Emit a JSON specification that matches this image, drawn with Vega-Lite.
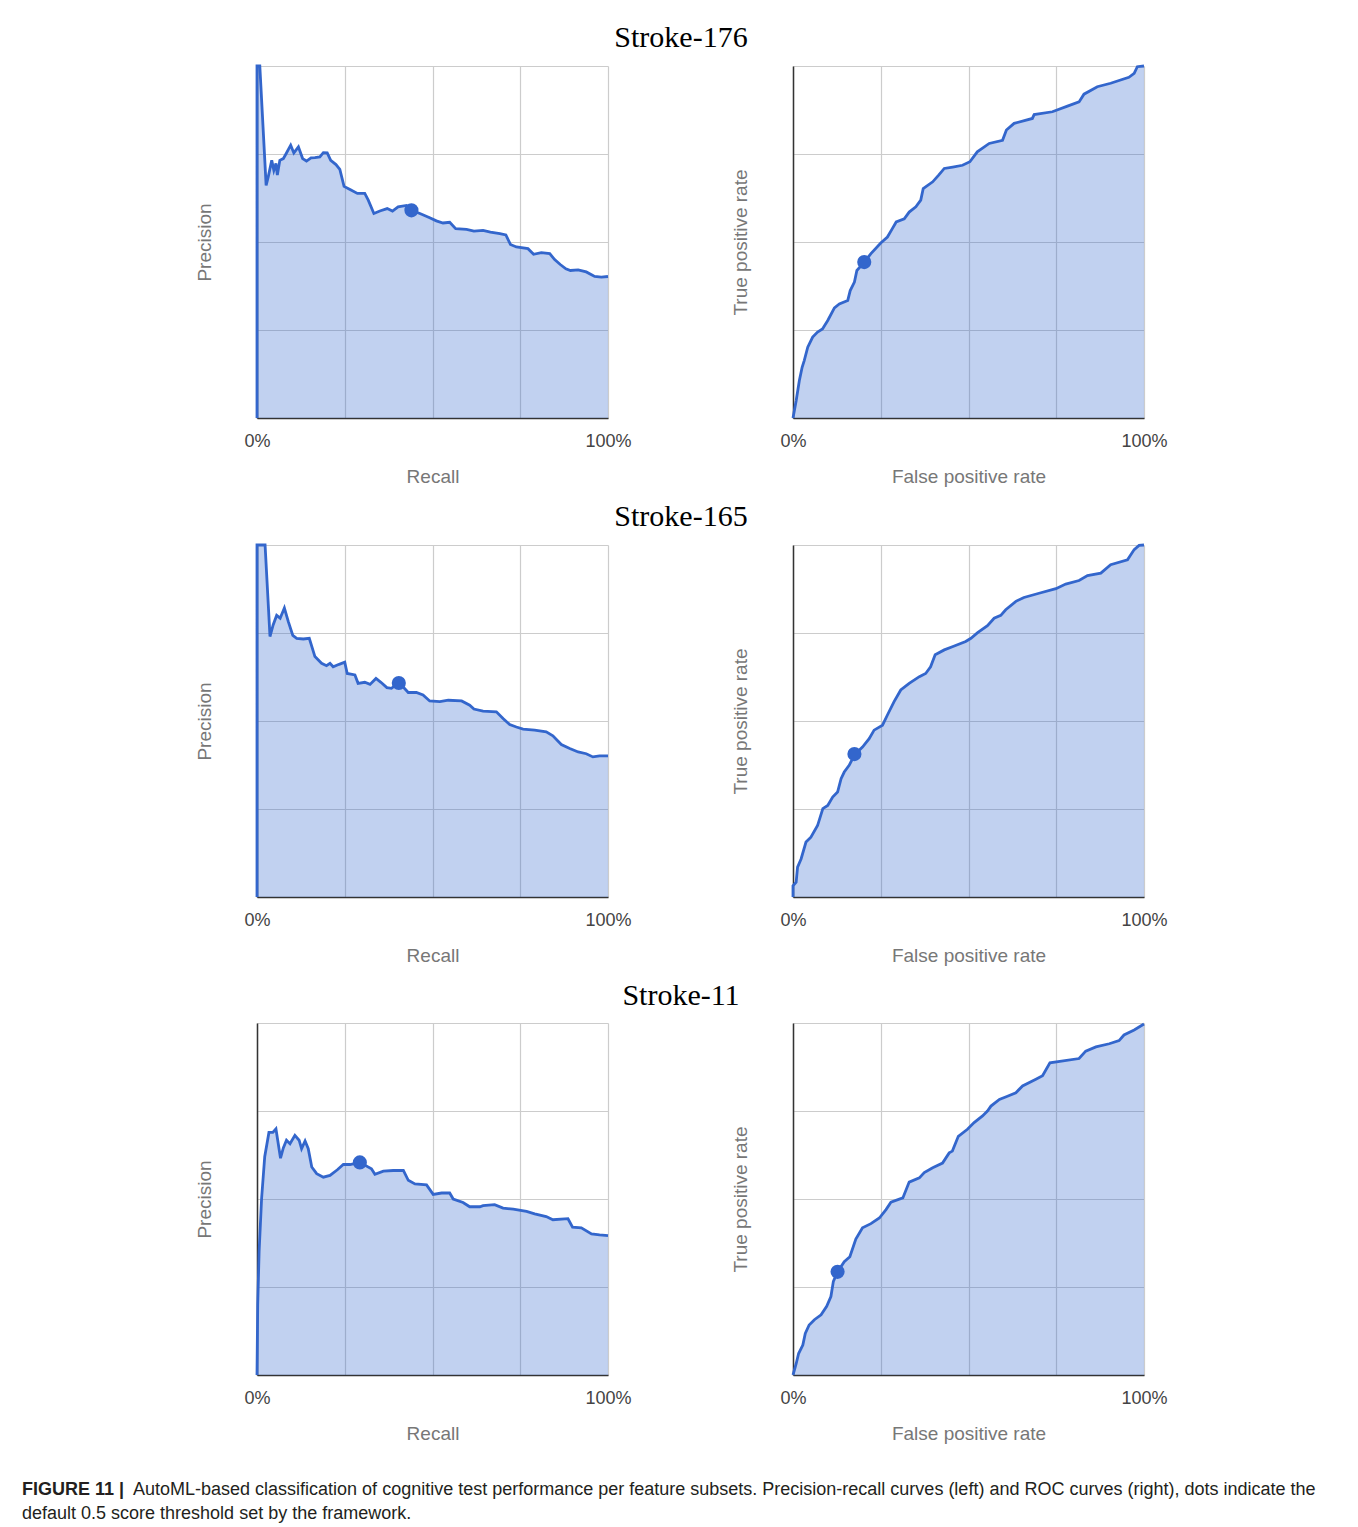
{
  "$schema": "https://vega.github.io/schema/vega-lite/v6.json",
  "background": "white",
  "padding": {"left": 22, "top": 23, "right": 10, "bottom": 5},
  "title": {
    "text": "default 0.5 score threshold set by the framework.",
    "orient": "bottom", "anchor": "start", "frame": "bounds", "offset": 6,
    "font": "Liberation Sans", "fontSize": 18, "fontWeight": "normal", "color": "#231f20"
  },
  "config": {
    "view": {"stroke": null},
    "axis": {
      "gridColor": "#cccccc", "gridWidth": 1.2, "domainColor": "#333333", "domainWidth": 1.5,
      "ticks": false, "labelFlush": false, "labelOverlap": false, "labelBound": false,
      "labelFont": "Liberation Sans", "labelFontSize": 18, "labelColor": "#444444",
      "titleFont": "Liberation Sans", "titleFontSize": 19, "titleColor": "#777777", "titleFontWeight": "normal"
    },
    "axisX": {"labelPadding": 14, "titlePadding": 17},
    "axisY": {"titlePadding": 43}
  },
  "datasets": {
    "pr176": [
      {"i":0,"x":0,"y":0},{"i":1,"x":0,"y":1},{"i":2,"x":0.008,"y":1},{"i":3,"x":0.026,"y":0.661},{"i":4,"x":0.032,"y":0.685},{"i":5,"x":0.042,"y":0.732},{"i":6,"x":0.048,"y":0.704},{"i":7,"x":0.054,"y":0.723},{"i":8,"x":0.058,"y":0.69},{"i":9,"x":0.065,"y":0.732},{"i":10,"x":0.075,"y":0.737},{"i":11,"x":0.084,"y":0.753},{"i":12,"x":0.096,"y":0.775},{"i":13,"x":0.105,"y":0.753},{"i":14,"x":0.118,"y":0.77},{"i":15,"x":0.13,"y":0.737},{"i":16,"x":0.141,"y":0.73},{"i":17,"x":0.154,"y":0.739},{"i":18,"x":0.165,"y":0.74},{"i":19,"x":0.179,"y":0.742},{"i":20,"x":0.189,"y":0.754},{"i":21,"x":0.2,"y":0.753},{"i":22,"x":0.21,"y":0.732},{"i":23,"x":0.225,"y":0.72},{"i":24,"x":0.236,"y":0.706},{"i":25,"x":0.248,"y":0.658},{"i":26,"x":0.265,"y":0.649},{"i":27,"x":0.286,"y":0.638},{"i":28,"x":0.307,"y":0.638},{"i":29,"x":0.317,"y":0.619},{"i":30,"x":0.333,"y":0.581},{"i":31,"x":0.35,"y":0.588},{"i":32,"x":0.371,"y":0.595},{"i":33,"x":0.386,"y":0.588},{"i":34,"x":0.402,"y":0.6},{"i":35,"x":0.426,"y":0.604},{"i":36,"x":0.44,"y":0.59},{"i":37,"x":0.464,"y":0.581},{"i":38,"x":0.492,"y":0.569},{"i":39,"x":0.511,"y":0.56},{"i":40,"x":0.53,"y":0.554},{"i":41,"x":0.549,"y":0.556},{"i":42,"x":0.566,"y":0.538},{"i":43,"x":0.597,"y":0.536},{"i":44,"x":0.618,"y":0.531},{"i":45,"x":0.644,"y":0.533},{"i":46,"x":0.665,"y":0.528},{"i":47,"x":0.692,"y":0.524},{"i":48,"x":0.709,"y":0.52},{"i":49,"x":0.722,"y":0.493},{"i":50,"x":0.739,"y":0.486},{"i":51,"x":0.772,"y":0.481},{"i":52,"x":0.788,"y":0.465},{"i":53,"x":0.81,"y":0.47},{"i":54,"x":0.834,"y":0.467},{"i":55,"x":0.848,"y":0.45},{"i":56,"x":0.864,"y":0.436},{"i":57,"x":0.88,"y":0.424},{"i":58,"x":0.893,"y":0.419},{"i":59,"x":0.915,"y":0.421},{"i":60,"x":0.938,"y":0.415},{"i":61,"x":0.962,"y":0.402},{"i":62,"x":0.981,"y":0.4},{"i":63,"x":1,"y":0.402}
    ],
    "roc176": [
      {"i":0,"x":0,"y":0},{"i":1,"x":0.009,"y":0.049},{"i":2,"x":0.018,"y":0.106},{"i":3,"x":0.026,"y":0.144},{"i":4,"x":0.032,"y":0.163},{"i":5,"x":0.042,"y":0.201},{"i":6,"x":0.056,"y":0.23},{"i":7,"x":0.07,"y":0.244},{"i":8,"x":0.084,"y":0.253},{"i":9,"x":0.099,"y":0.277},{"i":10,"x":0.118,"y":0.313},{"i":11,"x":0.132,"y":0.324},{"i":12,"x":0.156,"y":0.334},{"i":13,"x":0.163,"y":0.362},{"i":14,"x":0.175,"y":0.386},{"i":15,"x":0.182,"y":0.419},{"i":16,"x":0.203,"y":0.443},{"i":17,"x":0.222,"y":0.467},{"i":18,"x":0.25,"y":0.497},{"i":19,"x":0.269,"y":0.514},{"i":20,"x":0.283,"y":0.538},{"i":21,"x":0.294,"y":0.557},{"i":22,"x":0.317,"y":0.566},{"i":23,"x":0.331,"y":0.585},{"i":24,"x":0.35,"y":0.6},{"i":25,"x":0.364,"y":0.619},{"i":26,"x":0.371,"y":0.652},{"i":27,"x":0.398,"y":0.671},{"i":28,"x":0.415,"y":0.69},{"i":29,"x":0.431,"y":0.709},{"i":30,"x":0.455,"y":0.713},{"i":31,"x":0.483,"y":0.718},{"i":32,"x":0.504,"y":0.728},{"i":33,"x":0.525,"y":0.756},{"i":34,"x":0.559,"y":0.78},{"i":35,"x":0.597,"y":0.789},{"i":36,"x":0.608,"y":0.818},{"i":37,"x":0.63,"y":0.837},{"i":38,"x":0.682,"y":0.851},{"i":39,"x":0.687,"y":0.862},{"i":40,"x":0.739,"y":0.87},{"i":41,"x":0.782,"y":0.886},{"i":42,"x":0.815,"y":0.898},{"i":43,"x":0.829,"y":0.92},{"i":44,"x":0.867,"y":0.941},{"i":45,"x":0.905,"y":0.951},{"i":46,"x":0.957,"y":0.968},{"i":47,"x":0.972,"y":0.979},{"i":48,"x":0.981,"y":0.998},{"i":49,"x":1,"y":1}
    ],
    "pr165": [
      {"i":0,"x":0,"y":0},{"i":1,"x":0,"y":1},{"i":2,"x":0.023,"y":1},{"i":3,"x":0.037,"y":0.74},{"i":4,"x":0.046,"y":0.773},{"i":5,"x":0.056,"y":0.8},{"i":6,"x":0.066,"y":0.792},{"i":7,"x":0.078,"y":0.821},{"i":8,"x":0.089,"y":0.783},{"i":9,"x":0.102,"y":0.743},{"i":10,"x":0.113,"y":0.735},{"i":11,"x":0.132,"y":0.733},{"i":12,"x":0.149,"y":0.735},{"i":13,"x":0.165,"y":0.683},{"i":14,"x":0.184,"y":0.664},{"i":15,"x":0.198,"y":0.657},{"i":16,"x":0.208,"y":0.664},{"i":17,"x":0.217,"y":0.654},{"i":18,"x":0.234,"y":0.661},{"i":19,"x":0.25,"y":0.667},{"i":20,"x":0.257,"y":0.635},{"i":21,"x":0.279,"y":0.631},{"i":22,"x":0.288,"y":0.607},{"i":23,"x":0.307,"y":0.61},{"i":24,"x":0.322,"y":0.604},{"i":25,"x":0.339,"y":0.621},{"i":26,"x":0.353,"y":0.61},{"i":27,"x":0.37,"y":0.595},{"i":28,"x":0.383,"y":0.593},{"i":29,"x":0.405,"y":0.609},{"i":30,"x":0.431,"y":0.581},{"i":31,"x":0.454,"y":0.581},{"i":32,"x":0.473,"y":0.574},{"i":33,"x":0.492,"y":0.557},{"i":34,"x":0.521,"y":0.555},{"i":35,"x":0.545,"y":0.559},{"i":36,"x":0.583,"y":0.557},{"i":37,"x":0.606,"y":0.545},{"i":38,"x":0.618,"y":0.534},{"i":39,"x":0.644,"y":0.528},{"i":40,"x":0.682,"y":0.526},{"i":41,"x":0.701,"y":0.507},{"i":42,"x":0.72,"y":0.49},{"i":43,"x":0.739,"y":0.483},{"i":44,"x":0.758,"y":0.477},{"i":45,"x":0.791,"y":0.474},{"i":46,"x":0.824,"y":0.469},{"i":47,"x":0.843,"y":0.458},{"i":48,"x":0.867,"y":0.433},{"i":49,"x":0.891,"y":0.422},{"i":50,"x":0.915,"y":0.412},{"i":51,"x":0.938,"y":0.407},{"i":52,"x":0.957,"y":0.398},{"i":53,"x":0.976,"y":0.401},{"i":54,"x":1,"y":0.401}
    ],
    "roc165": [
      {"i":0,"x":0,"y":0},{"i":1,"x":0,"y":0.032},{"i":2,"x":0.009,"y":0.042},{"i":3,"x":0.013,"y":0.085},{"i":4,"x":0.023,"y":0.108},{"i":5,"x":0.037,"y":0.156},{"i":6,"x":0.051,"y":0.17},{"i":7,"x":0.07,"y":0.203},{"i":8,"x":0.085,"y":0.251},{"i":9,"x":0.099,"y":0.26},{"i":10,"x":0.113,"y":0.284},{"i":11,"x":0.127,"y":0.298},{"i":12,"x":0.137,"y":0.336},{"i":13,"x":0.146,"y":0.355},{"i":14,"x":0.16,"y":0.374},{"i":15,"x":0.176,"y":0.405},{"i":16,"x":0.198,"y":0.426},{"i":17,"x":0.217,"y":0.45},{"i":18,"x":0.231,"y":0.474},{"i":19,"x":0.255,"y":0.488},{"i":20,"x":0.269,"y":0.517},{"i":21,"x":0.288,"y":0.555},{"i":22,"x":0.307,"y":0.588},{"i":23,"x":0.331,"y":0.607},{"i":24,"x":0.36,"y":0.626},{"i":25,"x":0.378,"y":0.635},{"i":26,"x":0.392,"y":0.654},{"i":27,"x":0.405,"y":0.688},{"i":28,"x":0.431,"y":0.702},{"i":29,"x":0.454,"y":0.711},{"i":30,"x":0.492,"y":0.726},{"i":31,"x":0.507,"y":0.735},{"i":32,"x":0.526,"y":0.751},{"i":33,"x":0.554,"y":0.771},{"i":34,"x":0.573,"y":0.792},{"i":35,"x":0.592,"y":0.8},{"i":36,"x":0.606,"y":0.816},{"i":37,"x":0.635,"y":0.84},{"i":38,"x":0.658,"y":0.851},{"i":39,"x":0.701,"y":0.863},{"i":40,"x":0.749,"y":0.876},{"i":41,"x":0.777,"y":0.889},{"i":42,"x":0.815,"y":0.899},{"i":43,"x":0.839,"y":0.913},{"i":44,"x":0.877,"y":0.92},{"i":45,"x":0.905,"y":0.944},{"i":46,"x":0.953,"y":0.958},{"i":47,"x":0.972,"y":0.987},{"i":48,"x":0.986,"y":0.999},{"i":49,"x":1,"y":1}
    ],
    "pr11": [
      {"i":0,"x":0,"y":0},{"i":1,"x":0.002,"y":0.2},{"i":2,"x":0.006,"y":0.35},{"i":3,"x":0.013,"y":0.5},{"i":4,"x":0.022,"y":0.62},{"i":5,"x":0.034,"y":0.689},{"i":6,"x":0.045,"y":0.689},{"i":7,"x":0.054,"y":0.699},{"i":8,"x":0.067,"y":0.616},{"i":9,"x":0.075,"y":0.645},{"i":10,"x":0.084,"y":0.667},{"i":11,"x":0.094,"y":0.657},{"i":12,"x":0.108,"y":0.681},{"i":13,"x":0.12,"y":0.667},{"i":14,"x":0.127,"y":0.643},{"i":15,"x":0.137,"y":0.665},{"i":16,"x":0.146,"y":0.643},{"i":17,"x":0.156,"y":0.591},{"i":18,"x":0.17,"y":0.572},{"i":19,"x":0.189,"y":0.562},{"i":20,"x":0.208,"y":0.567},{"i":21,"x":0.229,"y":0.583},{"i":22,"x":0.246,"y":0.598},{"i":23,"x":0.265,"y":0.598},{"i":24,"x":0.293,"y":0.604},{"i":25,"x":0.326,"y":0.586},{"i":26,"x":0.336,"y":0.57},{"i":27,"x":0.36,"y":0.579},{"i":28,"x":0.388,"y":0.581},{"i":29,"x":0.417,"y":0.581},{"i":30,"x":0.431,"y":0.553},{"i":31,"x":0.45,"y":0.543},{"i":32,"x":0.483,"y":0.54},{"i":33,"x":0.502,"y":0.513},{"i":34,"x":0.526,"y":0.517},{"i":35,"x":0.549,"y":0.517},{"i":36,"x":0.559,"y":0.5},{"i":37,"x":0.587,"y":0.49},{"i":38,"x":0.606,"y":0.478},{"i":39,"x":0.635,"y":0.478},{"i":40,"x":0.644,"y":0.481},{"i":41,"x":0.677,"y":0.484},{"i":42,"x":0.701,"y":0.474},{"i":43,"x":0.73,"y":0.471},{"i":44,"x":0.768,"y":0.465},{"i":45,"x":0.791,"y":0.458},{"i":46,"x":0.824,"y":0.45},{"i":47,"x":0.843,"y":0.441},{"i":48,"x":0.886,"y":0.444},{"i":49,"x":0.899,"y":0.42},{"i":50,"x":0.924,"y":0.418},{"i":51,"x":0.953,"y":0.401},{"i":52,"x":0.976,"y":0.398},{"i":53,"x":1,"y":0.396}
    ],
    "roc11": [
      {"i":0,"x":0,"y":0},{"i":1,"x":0.009,"y":0.032},{"i":2,"x":0.016,"y":0.061},{"i":3,"x":0.028,"y":0.085},{"i":4,"x":0.035,"y":0.118},{"i":5,"x":0.046,"y":0.142},{"i":6,"x":0.061,"y":0.157},{"i":7,"x":0.08,"y":0.171},{"i":8,"x":0.096,"y":0.195},{"i":9,"x":0.108,"y":0.223},{"i":10,"x":0.115,"y":0.266},{"i":11,"x":0.127,"y":0.293},{"i":12,"x":0.146,"y":0.322},{"i":13,"x":0.162,"y":0.336},{"i":14,"x":0.179,"y":0.386},{"i":15,"x":0.198,"y":0.418},{"i":16,"x":0.222,"y":0.43},{"i":17,"x":0.246,"y":0.446},{"i":18,"x":0.265,"y":0.47},{"i":19,"x":0.279,"y":0.491},{"i":20,"x":0.313,"y":0.503},{"i":21,"x":0.331,"y":0.548},{"i":22,"x":0.36,"y":0.56},{"i":23,"x":0.374,"y":0.575},{"i":24,"x":0.398,"y":0.589},{"i":25,"x":0.426,"y":0.602},{"i":26,"x":0.445,"y":0.631},{"i":27,"x":0.454,"y":0.636},{"i":28,"x":0.471,"y":0.678},{"i":29,"x":0.497,"y":0.698},{"i":30,"x":0.516,"y":0.717},{"i":31,"x":0.54,"y":0.736},{"i":32,"x":0.554,"y":0.75},{"i":33,"x":0.564,"y":0.764},{"i":34,"x":0.588,"y":0.783},{"i":35,"x":0.611,"y":0.792},{"i":36,"x":0.635,"y":0.802},{"i":37,"x":0.654,"y":0.821},{"i":38,"x":0.692,"y":0.84},{"i":39,"x":0.711,"y":0.85},{"i":40,"x":0.732,"y":0.887},{"i":41,"x":0.815,"y":0.899},{"i":42,"x":0.834,"y":0.92},{"i":43,"x":0.863,"y":0.932},{"i":44,"x":0.901,"y":0.941},{"i":45,"x":0.929,"y":0.95},{"i":46,"x":0.943,"y":0.966},{"i":47,"x":0.972,"y":0.98},{"i":48,"x":1,"y":0.997}
    ],
    "thresholds": [
      {"panel":"pr176","x":0.44,"y":0.59},
      {"panel":"roc176","x":0.203,"y":0.443},
      {"panel":"pr165","x":0.404,"y":0.608},
      {"panel":"roc165","x":0.175,"y":0.406},
      {"panel":"pr11","x":0.293,"y":0.604},
      {"panel":"roc11","x":0.127,"y":0.293}
    ]
  },
  "vconcat": [
    {
      "title": {
        "text": "AutoML-based classification of cognitive test performance per feature subsets. Precision-recall curves (left) and ROC curves (right), dots indicate the",
        "orient": "bottom", "anchor": "start", "frame": "bounds", "offset": 0, "dx": 111, "dy": -18,
        "font": "Liberation Sans", "fontSize": 18, "fontWeight": "normal", "color": "#231f20"
      },
      "vconcat": [
        {
          "title": {
            "text": "FIGURE 11 |",
            "orient": "bottom", "anchor": "start", "frame": "bounds", "offset": 38, "dx": -173,
            "font": "Liberation Sans", "fontSize": 18, "fontWeight": "bold", "color": "#231f20"
          },
          "spacing": 16,
          "vconcat": [
            {
              "title": {"text": "Stroke-176", "font": "Liberation Serif", "fontSize": 30, "fontWeight": "normal", "color": "#000000", "anchor": "middle", "offset": 7},
              "spacing": 99,
              "hconcat": [
                {
                  "width": 351, "height": 352,
                  "data": {"name": "pr176"},
                  "encoding": {
                    "x": {"field": "x", "type": "quantitative", "scale": {"domain": [0, 1], "nice": false}, "axis": {"title": "Recall", "values": [0, 0.25, 0.5, 0.75, 1], "format": ".0%", "labelExpr": "datum.value == 0 || datum.value == 1 ? datum.label : ''"}},
                    "y": {"field": "y", "type": "quantitative", "scale": {"domain": [0, 1], "nice": false}, "axis": {"title": "Precision", "values": [0, 0.25, 0.5, 0.75, 1], "labels": false}}
                  },
                  "layer": [
                    {"mark": {"type": "area", "color": "#3366cc", "opacity": 0.3}},
                    {"mark": {"type": "line", "color": "#3366cc", "strokeWidth": 2.8}, "encoding": {"order": {"field": "i", "type": "quantitative"}}},
                    {"data": {"name": "thresholds"}, "transform": [{"filter": "datum.panel == 'pr176'"}], "mark": {"type": "circle", "size": 200, "opacity": 1, "color": "#3366cc"}}
                  ]
                },
                {
                  "width": 351, "height": 352,
                  "data": {"name": "roc176"},
                  "encoding": {
                    "x": {"field": "x", "type": "quantitative", "scale": {"domain": [0, 1], "nice": false}, "axis": {"title": "False positive rate", "values": [0, 0.25, 0.5, 0.75, 1], "format": ".0%", "labelExpr": "datum.value == 0 || datum.value == 1 ? datum.label : ''"}},
                    "y": {"field": "y", "type": "quantitative", "scale": {"domain": [0, 1], "nice": false}, "axis": {"title": "True positive rate", "values": [0, 0.25, 0.5, 0.75, 1], "labels": false}}
                  },
                  "layer": [
                    {"mark": {"type": "area", "color": "#3366cc", "opacity": 0.3}},
                    {"mark": {"type": "line", "color": "#3366cc", "strokeWidth": 2.8}, "encoding": {"order": {"field": "i", "type": "quantitative"}}},
                    {"data": {"name": "thresholds"}, "transform": [{"filter": "datum.panel == 'roc176'"}], "mark": {"type": "circle", "size": 200, "opacity": 1, "color": "#3366cc"}}
                  ]
                }
              ]
            },
            {
              "title": {"text": "Stroke-165", "font": "Liberation Serif", "fontSize": 30, "fontWeight": "normal", "color": "#000000", "anchor": "middle", "offset": 7},
              "spacing": 99,
              "hconcat": [
                {
                  "width": 351, "height": 352,
                  "data": {"name": "pr165"},
                  "encoding": {
                    "x": {"field": "x", "type": "quantitative", "scale": {"domain": [0, 1], "nice": false}, "axis": {"title": "Recall", "values": [0, 0.25, 0.5, 0.75, 1], "format": ".0%", "labelExpr": "datum.value == 0 || datum.value == 1 ? datum.label : ''"}},
                    "y": {"field": "y", "type": "quantitative", "scale": {"domain": [0, 1], "nice": false}, "axis": {"title": "Precision", "values": [0, 0.25, 0.5, 0.75, 1], "labels": false}}
                  },
                  "layer": [
                    {"mark": {"type": "area", "color": "#3366cc", "opacity": 0.3}},
                    {"mark": {"type": "line", "color": "#3366cc", "strokeWidth": 2.8}, "encoding": {"order": {"field": "i", "type": "quantitative"}}},
                    {"data": {"name": "thresholds"}, "transform": [{"filter": "datum.panel == 'pr165'"}], "mark": {"type": "circle", "size": 200, "opacity": 1, "color": "#3366cc"}}
                  ]
                },
                {
                  "width": 351, "height": 352,
                  "data": {"name": "roc165"},
                  "encoding": {
                    "x": {"field": "x", "type": "quantitative", "scale": {"domain": [0, 1], "nice": false}, "axis": {"title": "False positive rate", "values": [0, 0.25, 0.5, 0.75, 1], "format": ".0%", "labelExpr": "datum.value == 0 || datum.value == 1 ? datum.label : ''"}},
                    "y": {"field": "y", "type": "quantitative", "scale": {"domain": [0, 1], "nice": false}, "axis": {"title": "True positive rate", "values": [0, 0.25, 0.5, 0.75, 1], "labels": false}}
                  },
                  "layer": [
                    {"mark": {"type": "area", "color": "#3366cc", "opacity": 0.3}},
                    {"mark": {"type": "line", "color": "#3366cc", "strokeWidth": 2.8}, "encoding": {"order": {"field": "i", "type": "quantitative"}}},
                    {"data": {"name": "thresholds"}, "transform": [{"filter": "datum.panel == 'roc165'"}], "mark": {"type": "circle", "size": 200, "opacity": 1, "color": "#3366cc"}}
                  ]
                }
              ]
            },
            {
              "title": {"text": "Stroke-11", "font": "Liberation Serif", "fontSize": 30, "fontWeight": "normal", "color": "#000000", "anchor": "middle", "offset": 7},
              "spacing": 99,
              "hconcat": [
                {
                  "width": 351, "height": 352,
                  "data": {"name": "pr11"},
                  "encoding": {
                    "x": {"field": "x", "type": "quantitative", "scale": {"domain": [0, 1], "nice": false}, "axis": {"title": "Recall", "values": [0, 0.25, 0.5, 0.75, 1], "format": ".0%", "labelExpr": "datum.value == 0 || datum.value == 1 ? datum.label : ''"}},
                    "y": {"field": "y", "type": "quantitative", "scale": {"domain": [0, 1], "nice": false}, "axis": {"title": "Precision", "values": [0, 0.25, 0.5, 0.75, 1], "labels": false}}
                  },
                  "layer": [
                    {"mark": {"type": "area", "color": "#3366cc", "opacity": 0.3}},
                    {"mark": {"type": "line", "color": "#3366cc", "strokeWidth": 2.8}, "encoding": {"order": {"field": "i", "type": "quantitative"}}},
                    {"data": {"name": "thresholds"}, "transform": [{"filter": "datum.panel == 'pr11'"}], "mark": {"type": "circle", "size": 200, "opacity": 1, "color": "#3366cc"}}
                  ]
                },
                {
                  "width": 351, "height": 352,
                  "data": {"name": "roc11"},
                  "encoding": {
                    "x": {"field": "x", "type": "quantitative", "scale": {"domain": [0, 1], "nice": false}, "axis": {"title": "False positive rate", "values": [0, 0.25, 0.5, 0.75, 1], "format": ".0%", "labelExpr": "datum.value == 0 || datum.value == 1 ? datum.label : ''"}},
                    "y": {"field": "y", "type": "quantitative", "scale": {"domain": [0, 1], "nice": false}, "axis": {"title": "True positive rate", "values": [0, 0.25, 0.5, 0.75, 1], "labels": false}}
                  },
                  "layer": [
                    {"mark": {"type": "area", "color": "#3366cc", "opacity": 0.3}},
                    {"mark": {"type": "line", "color": "#3366cc", "strokeWidth": 2.8}, "encoding": {"order": {"field": "i", "type": "quantitative"}}},
                    {"data": {"name": "thresholds"}, "transform": [{"filter": "datum.panel == 'roc11'"}], "mark": {"type": "circle", "size": 200, "opacity": 1, "color": "#3366cc"}}
                  ]
                }
              ]
            }
          ]
        }
      ]
    }
  ]
}
